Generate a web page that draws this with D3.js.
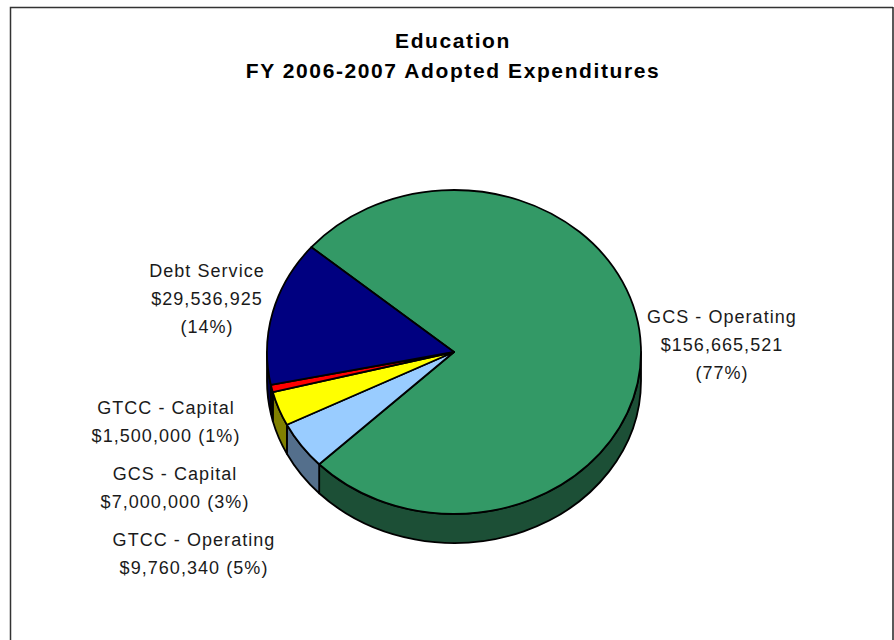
<!DOCTYPE html>
<html lang="en">
<head>
    <meta charset="UTF-8">
    <script src="https://d3js.org/d3.v7.min.js"></script>
    <style>
        html, body { margin: 0; padding: 0; background: #fff; overflow: hidden; }
        text { font-family: "Liberation Sans", Arial, sans-serif; fill: #000; }
        .title { font-size: 21px; font-weight: bold; text-anchor: middle; letter-spacing: 1.6px; }
        .label { font-size: 18px; text-anchor: middle; letter-spacing: 1.05px; fill: #1a1a1a; }
    </style>
</head>
<body>
    <svg id="chart" width="894" height="640"></svg>
    <script>
        const categories = ["GCS - Operating", "GTCC - Operating", "GCS - Capital", "GTCC - Capital", "Debt Service"];
        const values = [156665521, 9760340, 7000000, 1500000, 29536925];
        const topColors = ["#339966", "#99ccff", "#ffff00", "#ff0000", "#000080"];
        const sideColors = ["#1c4f36", "#546f8c", "#808000", "#800000", "#000046"];
        const labelLines = [
            ["GCS - Operating", "$156,665,521", "(77%)"],
            ["GTCC - Operating", "$9,760,340 (5%)"],
            ["GCS - Capital", "$7,000,000 (3%)"],
            ["GTCC - Capital", "$1,500,000 (1%)"],
            ["Debt Service", "$29,536,925", "(14%)"]
        ];
        const labelPos = [[722, 323], [194, 546], [175, 480], [166, 414], [207, 277]];
        const titleLines = ["Education", "FY 2006-2007 Adopted Expenditures"];

        const svg = d3.select("#chart");
        const cx = 454, cy = 352, rx = 187, ry = 162, depth = 29;
        const startDeg = -49.7;

        // outer frame, bottom edge is cut off by the picture
        svg.append("path")
            .attr("d", "M10.5,640V7.5H893")
            .attr("fill", "none")
            .attr("stroke", "#333")
            .attr("stroke-width", 1.5);
        svg.append("line")
            .attr("x1", 893).attr("x2", 893).attr("y1", 7).attr("y2", 640)
            .attr("stroke", "#222").attr("stroke-width", 1.5);

        svg.selectAll(".title")
            .data(titleLines)
            .join("text")
            .attr("class", "title")
            .attr("x", 453)
            .attr("y", (d, i) => 48 + i * 30)
            .text(d => d);

        const pie = d3.pie()
            .sort(null)
            .startAngle(startDeg * Math.PI / 180)
            .endAngle((startDeg + 360) * Math.PI / 180);
        const slices = pie(values);

        const px = a => cx + rx * Math.sin(a);
        const py = a => cy - ry * Math.cos(a);

        // wall of the pie: only the part facing the viewer (front half of the ellipse)
        function sidePath(d) {
            const from = Math.max(d.startAngle, Math.PI / 2);
            const to = Math.min(d.endAngle, 3 * Math.PI / 2);
            if (to <= from) return null;
            return `M${px(from)},${py(from)}`
                + `A${rx},${ry} 0 0 1 ${px(to)},${py(to)}`
                + `V${py(to) + depth}`
                + `A${rx},${ry} 0 0 0 ${px(from)},${py(from) + depth}Z`;
        }

        svg.append("g").selectAll("path")
            .data(slices)
            .join("path")
            .attr("d", sidePath)
            .attr("fill", (d, i) => sideColors[i])
            .attr("stroke", "#000")
            .attr("stroke-width", 1.8)
            .attr("stroke-linejoin", "round");

        const arc = d3.arc().innerRadius(0).outerRadius(rx);
        svg.append("g")
            .attr("transform", `translate(${cx},${cy}) scale(1,${ry / rx})`)
            .selectAll("path")
            .data(slices)
            .join("path")
            .attr("d", arc)
            .attr("fill", (d, i) => topColors[i])
            .attr("stroke", "#000")
            .attr("stroke-width", 1.8)
            .attr("stroke-linejoin", "round")
            .attr("vector-effect", "non-scaling-stroke");

        const labels = svg.append("g").selectAll("text")
            .data(labelLines)
            .join("text")
            .attr("class", "label")
            .attr("transform", (d, i) => `translate(${labelPos[i][0]},${labelPos[i][1]})`);
        labels.selectAll("tspan")
            .data(d => d)
            .join("tspan")
            .attr("x", 0)
            .attr("y", (d, i) => i * 28)
            .text(d => d);
    </script>
</body>
</html>
